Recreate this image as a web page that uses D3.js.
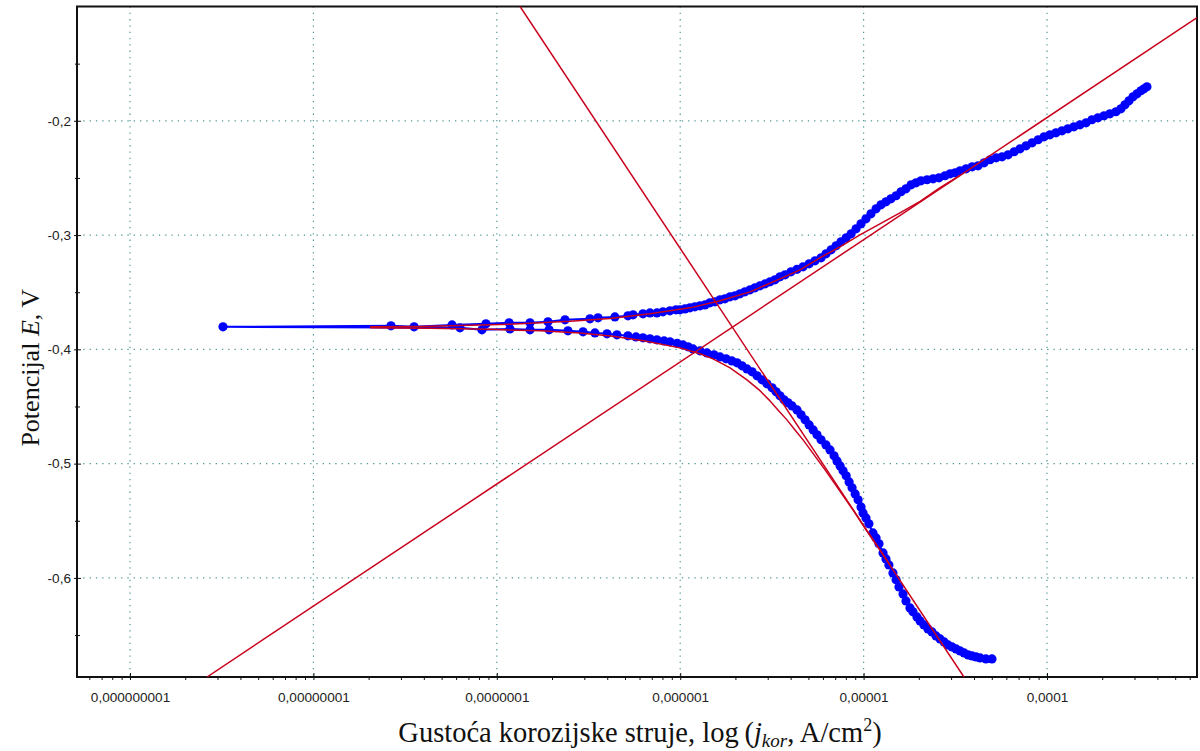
<!DOCTYPE html>
<html>
<head>
<meta charset="utf-8">
<script src="https://cdn.jsdelivr.net/npm/d3@7"></script>
<style>
  body { margin: 0; background: #fff; }
  svg { display: block; }
</style>
</head>
<body>
<div id="chart"></div>
<script>
// values: [log10(j / A cm^-2), E / V]
const restPoint = [[-8.493, -0.3803]];

const anodicBranch = [
  [-7.577,-0.3794],[-7.451,-0.3803],[-7.244,-0.3786],[-7.059,-0.3777],[-6.933,-0.3768],[-6.819,-0.3768],
  [-6.721,-0.3759],[-6.628,-0.3742],[-6.492,-0.3733],[-6.448,-0.3724],[-6.356,-0.3716],[-6.285,-0.3707],
  [-6.257,-0.3698],[-6.203,-0.3689],[-6.165,-0.3681],[-6.127,-0.3681],[-6.094,-0.3672],[-6.056,-0.3663],
  [-6.023,-0.3654],[-6.001,-0.3654],[-5.974,-0.3646],[-5.947,-0.3637],[-5.920,-0.3628],[-5.892,-0.3619],
  [-5.865,-0.3611],[-5.838,-0.3593],[-5.811,-0.3584],[-5.783,-0.3567],[-5.756,-0.3558],[-5.728,-0.3540],
  [-5.701,-0.3532],[-5.674,-0.3514],[-5.647,-0.3497],[-5.619,-0.3479],[-5.592,-0.3462],[-5.565,-0.3444],
  [-5.537,-0.3427],[-5.510,-0.3409],[-5.483,-0.3392],[-5.456,-0.3365],[-5.428,-0.3348],[-5.396,-0.3322],
  [-5.363,-0.3300],[-5.330,-0.3278],[-5.297,-0.3252],[-5.265,-0.3225],[-5.232,-0.3199],[-5.205,-0.3164],
  [-5.177,-0.3129],[-5.150,-0.3094],[-5.123,-0.3059],[-5.095,-0.3024],[-5.068,-0.2989],[-5.041,-0.2945],
  [-5.014,-0.2902],[-4.987,-0.2858],[-4.960,-0.2814],[-4.932,-0.2770],[-4.905,-0.2735],[-4.878,-0.2709],
  [-4.851,-0.2683],[-4.823,-0.2656],[-4.796,-0.2621],[-4.769,-0.2595],[-4.741,-0.2560],[-4.714,-0.2543],
  [-4.687,-0.2525],[-4.654,-0.2516],[-4.621,-0.2508],[-4.589,-0.2499],[-4.556,-0.2481],[-4.528,-0.2464],
  [-4.501,-0.2455],[-4.474,-0.2438],[-4.441,-0.2420],[-4.408,-0.2403],[-4.376,-0.2394],[-4.343,-0.2368],
  [-4.310,-0.2341],[-4.277,-0.2324],[-4.245,-0.2315],[-4.212,-0.2298],[-4.179,-0.2271],[-4.147,-0.2245],
  [-4.114,-0.2219],[-4.081,-0.2193],[-4.048,-0.2166],[-4.016,-0.2140],[-3.984,-0.2123],[-3.951,-0.2105],
  [-3.918,-0.2088],[-3.886,-0.2070],[-3.853,-0.2053],[-3.820,-0.2035],[-3.787,-0.2018],[-3.755,-0.1991],
  [-3.722,-0.1974],[-3.689,-0.1956],[-3.657,-0.1939],[-3.624,-0.1921],[-3.597,-0.1895],[-3.575,-0.1860],
  [-3.553,-0.1825],[-3.531,-0.1790],[-3.509,-0.1764],[-3.488,-0.1737],[-3.471,-0.1720],[-3.455,-0.1702]
];

const cathodicBranch = [
  [-7.201,-0.3812],[-7.081,-0.3829],[-6.928,-0.3821],[-6.819,-0.3829],[-6.715,-0.3829],[-6.612,-0.3838],
  [-6.530,-0.3847],[-6.465,-0.3856],[-6.399,-0.3864],[-6.345,-0.3873],[-6.285,-0.3882],[-6.241,-0.3891],
  [-6.203,-0.3899],[-6.165,-0.3908],[-6.127,-0.3917],[-6.088,-0.3926],[-6.056,-0.3934],[-6.017,-0.3947],
  [-5.985,-0.3961],[-5.957,-0.3978],[-5.930,-0.3996],[-5.892,-0.4013],[-5.854,-0.4031],[-5.816,-0.4048],
  [-5.783,-0.4066],[-5.750,-0.4083],[-5.718,-0.4101],[-5.690,-0.4118],[-5.663,-0.4144],[-5.636,-0.4171],
  [-5.608,-0.4197],[-5.581,-0.4232],[-5.554,-0.4267],[-5.527,-0.4302],[-5.499,-0.4337],[-5.477,-0.4372],
  [-5.456,-0.4407],[-5.434,-0.4442],[-5.412,-0.4468],[-5.390,-0.4495],[-5.363,-0.4530],[-5.341,-0.4573],
  [-5.319,-0.4617],[-5.297,-0.4661],[-5.275,-0.4705],[-5.254,-0.4748],[-5.232,-0.4792],[-5.205,-0.4836],
  [-5.183,-0.4880],[-5.161,-0.4932],[-5.145,-0.4976],[-5.128,-0.5020],[-5.112,-0.5063],[-5.095,-0.5107],
  [-5.079,-0.5160],[-5.063,-0.5212],[-5.046,-0.5265],[-5.030,-0.5317],[-5.014,-0.5379],[-5.003,-0.5431],
  [-4.987,-0.5475],[-4.971,-0.5527],[-4.949,-0.5606],[-4.932,-0.5650],[-4.916,-0.5702],[-4.894,-0.5781],
  [-4.878,-0.5834],[-4.862,-0.5886],[-4.840,-0.5956],[-4.823,-0.6017],[-4.807,-0.6079],[-4.785,-0.6140],
  [-4.769,-0.6201],[-4.747,-0.6263],[-4.731,-0.6297],[-4.709,-0.6341],[-4.692,-0.6376],[-4.671,-0.6411],
  [-4.649,-0.6446],[-4.627,-0.6473],[-4.605,-0.6508],[-4.583,-0.6534],[-4.561,-0.6560],[-4.540,-0.6586],
  [-4.518,-0.6604],[-4.496,-0.6621],[-4.474,-0.6639],[-4.452,-0.6656],[-4.430,-0.6674],[-4.409,-0.6683],
  [-4.387,-0.6691],[-4.365,-0.6700],[-4.333,-0.6709],[-4.300,-0.6709]
];

// fitted polarisation curve (red), both branches from the low-current end
const fitAnodic = [
  [-7.691,-0.3803],[-7.419,-0.3799],[-7.146,-0.3790],[-6.874,-0.3777],[-6.601,-0.3755],[-6.383,-0.3729],
  [-6.165,-0.3689],[-5.947,-0.3637],[-5.783,-0.3575],[-5.619,-0.3497],[-5.456,-0.3383],[-5.347,-0.3304],
  [-5.238,-0.3199],[-5.129,-0.3103],[-5.020,-0.2998],[-4.911,-0.2902],[-4.802,-0.2806],[-4.692,-0.2705],
  [-4.583,-0.2586],[-4.474,-0.2477]
];
const fitCathodic = [
  [-7.691,-0.3812],[-7.364,-0.3816],[-7.037,-0.3825],[-6.764,-0.3838],[-6.546,-0.3856],[-6.366,-0.3886],
  [-6.192,-0.3926],[-6.001,-0.3987],[-5.892,-0.4039],[-5.821,-0.4083],[-5.728,-0.4162],[-5.636,-0.4267],
  [-5.570,-0.4354],[-5.516,-0.4442],[-5.467,-0.4530],[-5.418,-0.4617],[-5.374,-0.4705],[-5.330,-0.4792],
  [-5.270,-0.4923],[-5.210,-0.5055],[-5.134,-0.5230],[-5.058,-0.5405],[-4.987,-0.5580],[-4.911,-0.5755],
  [-4.856,-0.5886]
];

// Tafel extrapolation lines
const tafelAnodic = [[-8.580,-0.6867],[-3.182,-0.1098]];
const tafelCathodic = [[-6.874,-0.0998],[-4.453,-0.6867]];

const xMajor = [1e-9, 1e-8, 1e-7, 1e-6, 1e-5, 1e-4];
const yMajor = [-0.6, -0.5, -0.4, -0.3, -0.2];
const yMinor = [-0.65, -0.55, -0.45, -0.35, -0.25, -0.15];
const xDomain = [5.14e-10, 6.575e-4];
const yDomain = [-0.6867, -0.1];

const W = 1200, H = 751;
const margin = {top: 6.5, right: 3, bottom: 74, left: 77};
const width = W - margin.left - margin.right,
      height = H - margin.top - margin.bottom;

const x = d3.scaleLog().domain(xDomain).range([0, width]);
const y = d3.scaleLinear().domain(yDomain).range([height, 0]);

const svg = d3.select("#chart").append("svg")
  .attr("width", W).attr("height", H)
  .append("g")
  .attr("transform", "translate(" + margin.left + "," + margin.top + ")");

svg.append("defs").append("clipPath").attr("id", "plotclip")
  .append("rect").attr("width", width).attr("height", height);

// dotted grid
const gridColor = "#4f9a96";
svg.append("g").selectAll("line").data(xMajor).join("line")
  .attr("x1", d => x(d)).attr("x2", d => x(d))
  .attr("y1", 0).attr("y2", height)
  .attr("stroke", gridColor).attr("stroke-width", 1.2)
  .attr("stroke-dasharray", "1.3,5");
svg.append("g").selectAll("line").data(yMajor).join("line")
  .attr("x1", 0).attr("x2", width)
  .attr("y1", d => y(d)).attr("y2", d => y(d))
  .attr("stroke", gridColor).attr("stroke-width", 1.2)
  .attr("stroke-dasharray", "1.3,5");

// axes
const fmtJ = v => v.toFixed(Math.round(-Math.log10(v))).replace(".", ",");
const fmtE = v => d3.format(".1f")(v).replace(".", ",").replace("−", "-");

let xMinor = [];
for (let n = -10; n <= -4; n++) {
  for (let k = 2; k <= 9; k++) {
    const v = k * Math.pow(10, n);
    if (v > xDomain[0] && v < xDomain[1]) xMinor.push(v);
  }
}

const xAxisG = svg.append("g").attr("transform", "translate(0," + height + ")")
  .call(d3.axisBottom(x).tickValues(xMajor).tickSize(3).tickPadding(12.5).tickFormat(fmtJ));
xAxisG.selectAll(".tick line").attr("y1", -4).attr("y2", 3);
svg.append("g").attr("transform", "translate(0," + height + ")")
  .call(d3.axisBottom(x).tickValues(xMinor).tickSize(3).tickFormat(""));

const yAxisG = svg.append("g")
  .call(d3.axisLeft(y).tickValues(yMajor).tickSize(3).tickPadding(3).tickFormat(fmtE));
yAxisG.selectAll(".tick line").attr("x1", -3).attr("x2", 4);
const yMinorG = svg.append("g")
  .call(d3.axisLeft(y).tickValues(yMinor).tickSize(2).tickFormat(""));
yMinorG.selectAll(".tick line").attr("x1", -2).attr("x2", 3);

svg.selectAll(".domain").remove();
svg.selectAll(".tick text")
  .style("font-family", "'Liberation Sans', Arial, sans-serif")
  .style("font-size", "13.6px").attr("fill", "#222");
svg.selectAll(".tick line").attr("stroke", "#111");

svg.append("rect").attr("width", width).attr("height", height)
  .attr("fill", "none").attr("stroke", "#111").attr("stroke-width", 2);

// series
const plot = svg.append("g").attr("clip-path", "url(#plotclip)");
const line = d3.line().x(d => x(Math.pow(10, d[0]))).y(d => y(d[1]));

const measured = cathodicBranch.slice().reverse().concat(restPoint, anodicBranch);
plot.append("path").datum(measured)
  .attr("fill", "none").attr("stroke", "#0000ff").attr("stroke-width", 2)
  .attr("d", line);
plot.append("g").selectAll("circle").data(measured).join("circle")
  .attr("cx", d => x(Math.pow(10, d[0]))).attr("cy", d => y(d[1]))
  .attr("r", 4.6).attr("fill", "#0000ff");

const red = "#c8001e";
[fitAnodic, fitCathodic, tafelAnodic, tafelCathodic].forEach(function(s) {
  plot.append("path").datum(s)
    .attr("fill", "none").attr("stroke", red).attr("stroke-width", 1.5)
    .attr("d", line);
});

// axis titles
const serif = "'Liberation Serif', 'Times New Roman', serif";
const xt = svg.append("text")
  .attr("x", width / 2 + 3).attr("y", height + 65)
  .attr("text-anchor", "middle")
  .style("font-family", serif).style("font-size", "28.5px").attr("fill", "#111");
xt.append("tspan").text("Gustoća korozijske struje, log\u2009(");
xt.append("tspan").style("font-style", "italic").text("j");
xt.append("tspan").style("font-style", "italic").style("font-size", "19px").attr("dy", 5).text("kor");
xt.append("tspan").attr("dy", -5).text(", A/cm");
xt.append("tspan").style("font-size", "18px").attr("dy", -11).text("2");
xt.append("tspan").attr("dy", 11).text(")");

const yt = svg.append("text")
  .attr("transform", "translate(" + (-38) + "," + (height / 2 + 26) + ") rotate(-90)")
  .attr("text-anchor", "middle")
  .style("font-family", serif).style("font-size", "26px").attr("fill", "#111");
yt.append("tspan").text("Potencijal ");
yt.append("tspan").style("font-style", "italic").text("E");
yt.append("tspan").text(", V");
</script>
</body>
</html>
